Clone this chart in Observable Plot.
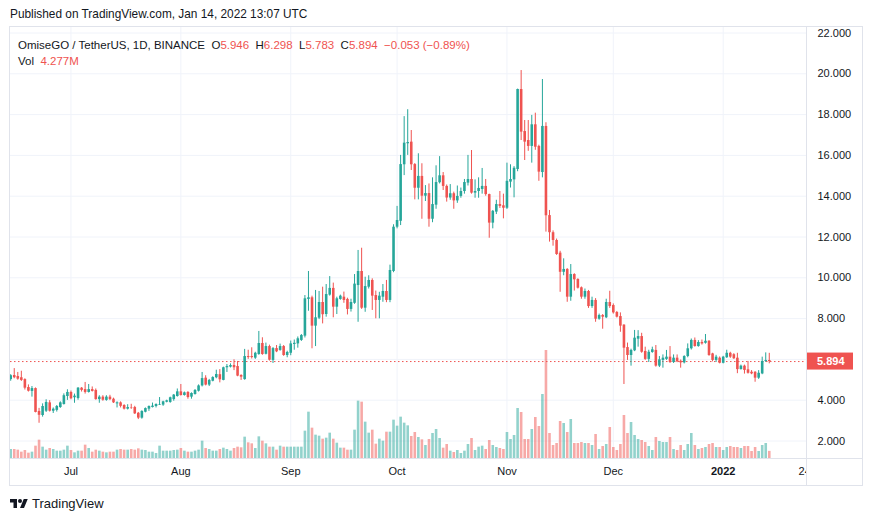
<!DOCTYPE html>
<html><head><meta charset="utf-8">
<script src="https://cdn.jsdelivr.net/npm/d3@7"></script>
<script src="https://cdn.jsdelivr.net/npm/@observablehq/plot@0.6"></script>
<style>
html,body{margin:0;padding:0;background:#fff;}
body{font-family:"Liberation Sans",Arial,sans-serif;color:#131722;}
#page{position:relative;width:873px;height:521px;overflow:hidden;background:#fff;}
#pub{position:absolute;left:10px;top:7px;font-size:11.85px;line-height:14px;white-space:nowrap;}
#chart{position:absolute;left:0;top:26px;width:873px;height:460px;}
#chart > svg{position:absolute;left:0;top:0;}
.line{position:absolute;background:#e0e3eb;}
#legend{position:absolute;left:18px;top:37px;font-size:11.5px;line-height:16px;white-space:pre;}
.r{color:#ef5350;}
.g{color:#26a69a;}
#footer{position:absolute;left:10px;top:496px;display:flex;align-items:center;font-size:13px;white-space:nowrap;}
</style></head>
<body><div id="page">
<div id="pub">Published on TradingView.com, Jan 14, 2022 13:07 UTC</div>
<div id="chart"></div>
<div style="position:absolute;left:807px;top:459px;width:55px;height:26px;background:#fff"></div>
<div class="line" style="left:9px;top:26px;width:854px;height:1px"></div>
<div class="line" style="left:9px;top:485px;width:854px;height:1px"></div>
<div class="line" style="left:9px;top:26px;width:1px;height:460px"></div>
<div class="line" style="left:862px;top:26px;width:1px;height:460px"></div>
<div class="line" style="left:806px;top:26px;width:1px;height:460px"></div>
<div class="line" style="left:9px;top:458px;width:854px;height:1px"></div>
<div id="legend"></div>
<div id="footer"><svg width="18" height="14" viewBox="0 0 36 28" style="margin-right:4px"><path d="M14 22H7V11H0V4h14v18zM28 22h-8l7.5-18h8L28 22z" fill="#131722"/><circle cx="20" cy="8" r="4" fill="#131722"/></svg><span>TradingView</span></div>
</div>
<script>
// ---- data (daily candles from 2021-06-14) ----
const startDate = "2021-06-14";
const open = [5.01,5.21,5.16,5.10,5.01,4.62,4.43,4.57,3.45,3.25,3.46,3.87,3.46,3.50,3.64,3.79,4.18,4.38,4.12,4.08,
4.59,4.52,4.38,4.52,4.48,4.03,4.15,3.99,4.15,4.05,3.82,3.87,3.74,3.56,3.62,3.64,3.36,3.12,3.41,3.56,
3.64,3.69,3.76,3.76,3.90,3.89,4.03,4.18,4.41,4.23,4.38,4.15,4.28,4.44,4.70,5.08,4.74,4.93,5.10,5.25,
4.97,5.59,5.62,5.70,5.65,5.21,5.01,6.14,6.14,6.06,6.24,6.78,6.25,6.63,5.95,6.53,6.44,6.63,6.19,6.30,
6.73,6.76,6.93,7.14,8.94,9.02,7.63,8.02,8.79,8.20,9.15,9.48,8.56,8.94,9.05,8.94,8.45,8.75,9.62,10.31,
8.51,9.54,9.87,9.13,8.89,9.05,9.33,8.89,10.31,12.48,12.77,15.54,16.57,16.65,15.55,14.39,14.97,14.00,14.13,12.87,
13.56,14.66,15.00,14.48,13.91,14.12,13.77,13.99,14.23,14.64,14.82,14.15,14.23,14.33,14.48,14.08,12.68,13.22,13.59,13.53,
13.41,14.69,14.80,15.31,19.23,17.17,16.73,16.44,17.50,16.44,15.16,17.42,13.05,12.21,11.83,11.21,10.27,10.41,9.05,10.16,
9.92,9.51,9.05,9.33,8.59,8.89,7.97,8.15,8.04,8.79,8.64,8.30,8.10,7.68,6.58,6.19,6.42,6.99,7.12,6.39,
6.00,6.34,6.44,5.67,5.95,6.00,6.11,5.85,6.06,5.91,5.83,6.14,6.52,6.93,6.63,6.83,6.79,6.89,6.27,5.95,
6.06,5.81,6.08,6.30,6.23,6.06,5.50,5.67,5.49,5.37,5.37,5.08,5.29,5.90,5.946];
const high = [5.25,5.55,5.36,5.42,5.05,4.75,4.67,4.60,3.60,3.82,4.02,3.98,3.62,3.74,3.92,4.31,4.51,4.45,4.30,4.62,
4.62,4.87,4.77,4.65,4.55,4.22,4.22,4.22,4.24,4.10,3.92,3.92,3.78,3.78,3.80,3.70,3.40,3.48,3.62,3.72,
3.86,3.82,4.13,3.95,4.00,4.15,4.28,4.55,4.77,4.40,4.42,4.36,4.52,4.75,5.36,5.20,5.02,5.15,5.47,5.50,
5.62,5.75,5.78,5.98,5.90,5.25,6.49,6.45,6.57,6.35,7.37,7.06,6.80,6.70,6.58,6.68,6.75,6.68,6.40,6.90,
6.95,7.10,7.22,9.13,10.31,9.10,9.38,9.33,9.54,9.67,10.06,9.74,9.05,9.15,9.30,9.00,8.95,10.16,11.34,11.45,
10.03,10.10,9.95,9.35,9.29,9.67,9.87,10.62,12.60,13.50,16.00,17.90,18.24,17.22,15.60,16.08,15.59,14.52,14.60,14.90,
15.49,15.94,15.16,14.55,14.57,14.20,14.50,14.40,14.82,16.00,16.24,14.80,14.90,15.36,14.82,14.10,13.30,13.80,14.23,14.10,
15.62,15.54,15.45,19.25,20.16,17.71,17.71,17.96,18.07,16.50,19.72,17.60,13.30,12.30,11.90,11.30,10.93,10.45,10.65,10.20,
9.95,9.55,9.45,9.38,9.05,8.98,8.22,8.20,8.95,9.34,8.72,8.35,8.28,7.70,6.80,6.50,7.42,7.41,7.28,6.60,
6.45,6.60,6.68,6.14,6.22,6.44,6.63,6.22,6.22,5.97,6.18,6.76,7.00,7.05,6.92,6.95,7.22,6.92,6.30,6.20,
6.12,6.15,6.45,6.35,6.28,6.30,5.72,5.72,5.90,5.45,5.40,5.45,6.11,6.32,6.298];
const low = [4.93,5.05,4.98,4.92,4.50,4.40,4.15,3.38,2.87,3.17,3.40,3.42,3.35,3.42,3.60,3.76,3.99,4.02,3.85,4.00,
4.40,4.30,4.35,4.40,4.00,3.85,3.95,3.95,3.98,3.84,3.62,3.62,3.52,3.52,3.55,3.30,3.05,3.07,3.38,3.45,
3.62,3.62,3.74,3.70,3.87,3.85,3.95,4.15,4.20,4.20,4.05,4.05,4.25,4.40,4.65,4.70,4.67,4.90,5.05,4.85,
4.95,5.36,5.58,5.45,5.15,4.97,4.98,6.00,6.02,6.00,6.20,6.20,6.22,5.92,5.80,6.33,6.40,6.15,6.08,6.18,
6.45,6.55,6.88,7.05,8.36,6.52,6.63,7.95,7.74,8.07,9.10,8.04,8.20,8.90,8.75,8.18,8.32,8.70,7.82,8.45,
8.31,9.45,8.40,7.99,7.99,8.80,8.78,8.78,10.25,12.40,12.56,15.01,16.00,15.26,13.82,13.82,12.87,13.74,12.48,12.70,
13.36,14.60,14.28,13.71,13.80,13.36,13.65,13.90,14.10,14.50,14.10,13.90,13.90,14.10,14.00,11.94,12.40,13.10,13.40,12.89,
13.35,14.40,13.92,15.20,16.73,15.75,16.20,15.62,16.25,14.73,14.90,12.24,11.75,11.55,11.10,9.29,10.10,8.80,8.85,9.35,
9.45,8.95,8.95,8.50,8.50,7.82,7.92,7.48,8.00,8.50,8.22,8.03,7.33,4.77,5.95,5.67,6.38,6.60,6.30,5.95,
5.85,6.30,5.62,5.60,5.57,5.95,5.80,5.80,5.84,5.57,5.78,6.08,6.46,6.60,6.60,6.70,6.75,6.15,5.88,5.85,
5.78,5.78,6.05,6.05,6.00,5.30,5.48,5.28,5.28,5.25,4.88,5.02,5.25,5.85,5.783];
const close = [5.20,5.10,5.03,4.97,4.59,4.44,4.57,3.40,3.26,3.69,3.89,3.46,3.56,3.69,3.87,4.22,4.38,4.07,4.20,4.59,
4.48,4.38,4.52,4.43,4.03,4.15,4.00,4.15,4.03,3.87,3.87,3.70,3.56,3.64,3.60,3.33,3.12,3.45,3.59,3.69,
3.71,3.79,3.79,3.92,3.97,4.12,4.25,4.41,4.23,4.36,4.13,4.33,4.48,4.70,5.06,4.74,4.97,5.11,5.26,5.00,
5.59,5.65,5.70,5.59,5.18,5.13,6.14,6.09,6.09,6.30,6.78,6.24,6.63,5.96,6.53,6.37,6.63,6.19,6.34,6.76,
6.79,7.01,7.17,8.97,9.02,7.63,8.04,8.79,8.19,9.18,9.48,8.56,8.97,9.10,8.89,8.45,8.79,9.69,10.31,8.51,
9.57,9.87,9.10,8.89,9.10,9.33,8.89,10.36,12.48,12.81,15.55,16.60,16.63,15.54,14.39,14.97,14.00,14.13,12.87,13.59,
14.67,15.00,14.48,13.91,14.12,13.77,13.99,14.23,14.67,14.82,14.15,14.23,14.38,14.48,14.08,12.68,13.26,13.59,13.50,13.41,
14.73,14.82,15.37,19.23,17.14,16.65,16.44,17.50,16.40,15.18,17.42,13.04,12.21,11.83,11.14,10.27,10.41,9.05,10.16,9.90,
9.49,9.05,9.33,8.59,8.89,7.97,8.15,8.07,8.79,8.59,8.28,8.07,7.63,6.55,6.19,6.44,7.04,7.12,6.35,6.00,
6.35,6.47,5.67,5.98,6.06,6.11,5.85,6.06,5.88,5.83,6.14,6.52,6.93,6.63,6.83,6.76,6.89,6.19,5.95,6.11,
5.81,6.11,6.30,6.11,6.03,5.50,5.67,5.46,5.32,5.29,5.08,5.32,5.90,5.947,5.894];
// volume in millions
const volume = [5.4,5.4,5.0,3.8,4.8,3.2,3.8,7.4,11.0,6.8,5.0,6.0,5.4,4.4,4.4,5.0,7.4,4.8,3.4,4.4,
4.4,8.0,6.0,3.8,5.0,4.4,3.8,3.4,3.8,3.8,5.0,5.4,5.0,5.0,5.4,5.0,5.8,5.0,4.8,3.8,
3.8,3.0,7.4,4.4,4.4,4.4,4.8,5.0,6.0,4.4,3.8,3.8,4.4,5.0,10.4,6.0,5.4,4.4,4.4,5.4,
6.2,5.4,4.4,6.0,6.8,6.4,12.8,9.4,8.8,6.0,13.0,10.4,8.8,6.8,6.8,5.0,7.4,6.8,6.8,6.8,
6.8,6.8,6.8,16.4,27.8,18.2,14.0,13.4,11.6,12.2,15.2,11.6,9.2,6.2,6.2,5.0,5.0,17.0,34.4,33.8,
21.8,15.2,17.0,8.6,11.6,10.4,15.8,15.8,23.0,19.4,24.8,21.2,19.6,13.2,15.6,12.6,11.2,7.8,11.4,15.0,
17.4,12.0,6.2,8.4,4.4,3.6,4.8,3.0,4.4,8.4,12.0,4.8,6.8,7.4,5.4,10.8,7.8,6.6,6.0,5.4,
15.6,11.4,13.8,30.0,27.6,11.4,11.4,17.4,24.6,19.2,38.4,64.8,15.0,7.8,9.0,22.2,21.0,15.6,23.4,9.0,
9.0,9.6,9.0,9.0,7.8,14.4,5.4,7.2,8.4,18.6,6.6,4.8,8.4,25.8,15.0,21.6,13.8,11.4,10.8,9.6,
7.2,4.8,12.6,10.2,9.6,9.6,12.6,5.4,4.8,7.8,4.8,8.4,15.0,7.8,5.4,6.0,6.6,8.4,9.0,6.6,
6.6,4.8,6.6,7.2,6.6,6.6,6.0,7.2,7.2,4.2,6.6,4.2,7.8,9.0,4.277];
const priceTicks = [2,4,6,8,10,12,14,16,18,20,22];
const priceAxisLabels = [2,4,8,10,12,14,16,18,20,22]; // 6.000 sits under the last-price tag
const tickDateStrings = ["2021-07-01","2021-08-01","2021-09-01","2021-10-01","2021-11-01","2021-12-01","2022-01-01","2022-01-24"];
const tickLabels = ["Jul","Aug","Sep","Oct","Nov","Dec","2022","24"];
const gridDateStrings = ["2021-07-01","2021-08-01","2021-09-01","2021-10-01","2021-11-01","2021-12-01","2022-01-01"];
const symbolTitle = "OmiseGO / TetherUS, 1D, BINANCE";

// ---- build ----
const t0 = Date.parse(startDate + "T00:00:00Z");
const data = open.map((o, i) => ({date: new Date(t0 + i * 864e5), open: o, high: high[i], low: low[i], close: close[i], volume: volume[i], up: close[i] >= o}));
const upD = data.filter(d => d.up), dnD = data.filter(d => !d.up);
const tickDates = tickDateStrings.map(s => new Date(s + "T00:00:00Z"));
const labelOf = new Map(tickDates.map((d, i) => [+d, tickLabels[i]]));
const gridDates = gridDateStrings.map(s => new Date(s + "T00:00:00Z"));

const UP = "#26a69a", DN = "#ef5350", GRID = "#f0f3fa";
const W = 873, H = 460, ML = 10, MR = 67, MT = 1, MB = 28;
const xDomain = [new Date("2021-06-13T22:40:00Z"), new Date("2022-01-24T12:00:00Z")];
const yPrice = {domain: [2, 22], range: [414.5, 6.5]};
const base = {width: W, height: H, marginLeft: ML, marginRight: MR, marginTop: MT, marginBottom: MB,
  style: {background: "transparent", fontFamily: "'Liberation Sans', Arial, sans-serif", fontSize: "11px", color: "#131722", overflow: "visible"}};

const gridPlot = Plot.plot({...base,
  x: {type: "utc", domain: xDomain, ticks: tickDates, tickFormat: d => labelOf.get(+d) ?? "", tickSize: 0, tickPadding: 9, label: null},
  y: {...yPrice, axis: "right", ticks: priceAxisLabels, tickFormat: d3.format(".3f"), tickSize: 0, tickPadding: 11, label: null},
  marks: [
    Plot.ruleY(priceTicks, {stroke: GRID}),
    Plot.ruleX(gridDates, {stroke: GRID})
  ]
});
d3.select(gridPlot).selectAll("text").filter(function () { return this.textContent === "2022"; }).attr("font-weight", "bold");

const volPlot = Plot.plot({...base,
  x: {type: "utc", domain: xDomain, axis: null},
  y: {domain: [0, d3.max(volume)], range: [432, 324], axis: null},
  marks: [
    Plot.ruleX(upD, {x: "date", y1: 0, y2: "volume", stroke: UP, strokeOpacity: 0.5, strokeWidth: 2.6}),
    Plot.ruleX(dnD, {x: "date", y1: 0, y2: "volume", stroke: DN, strokeOpacity: 0.5, strokeWidth: 2.6})
  ]
});

const last = data[data.length - 1];
const candlePlot = Plot.plot({...base,
  x: {type: "utc", domain: xDomain, axis: null},
  y: {...yPrice, axis: null},
  marks: [
    Plot.ruleY([last.close], {stroke: DN, strokeDasharray: "1.5,2.5", strokeWidth: 1}),
    Plot.ruleX(upD, {x: "date", y1: "low", y2: "high", stroke: UP, strokeWidth: 1}),
    Plot.ruleX(dnD, {x: "date", y1: "low", y2: "high", stroke: DN, strokeWidth: 1}),
    Plot.ruleX(upD, {x: "date", y1: "open", y2: "close", stroke: UP, strokeWidth: 2.6}),
    Plot.ruleX(dnD, {x: "date", y1: "open", y2: "close", stroke: DN, strokeWidth: 2.6})
  ]
});
// last-price tag on the price axis
const ys = candlePlot.scale("y");
const yf = ys.apply ? ys.apply.bind(ys) : d3.scaleLinear(ys.domain, ys.range);
const yl = yf(last.close);
const lastColor = last.up ? UP : DN;
const g = d3.select(candlePlot).append("g").attr("text-anchor", "start");
g.append("rect").attr("x", W - MR + 1).attr("y", yl - 8.5).attr("width", 46).attr("height", 17).attr("fill", lastColor);
g.append("text").attr("x", W - MR + 11).attr("y", yl).attr("dy", "0.35em").attr("text-anchor", "start").attr("fill", "#fff").attr("font-weight", "bold").attr("font-size", 11).text(last.close.toFixed(3));

const chart = document.getElementById("chart");
chart.append(gridPlot, volPlot, candlePlot);

// legend
const prev = data[data.length - 2];
const chg = last.close - prev.close;
const pct = chg / prev.close * 100;
const cls = last.up ? "g" : "r";
const f3 = v => v.toFixed(3);
const sgn = v => (v < 0 ? "\u2212" : "+") + Math.abs(v).toFixed(3);
const sgnP = v => (v < 0 ? "\u2212" : "+") + Math.abs(v).toFixed(2) + "%";
document.getElementById("legend").innerHTML =
  `<div>${symbolTitle}  O<span class="${cls}">${f3(last.open)}</span>  H<span class="${cls}">${f3(last.high)}</span>  L<span class="${cls}">${f3(last.low)}</span>  C<span class="${cls}">${f3(last.close)}</span>  <span class="${cls}">${sgn(chg)} (${sgnP(pct)})</span></div>` +
  `<div>Vol  <span class="${cls}">${last.volume.toFixed(3)}M</span></div>`;
</script>
</body></html>
